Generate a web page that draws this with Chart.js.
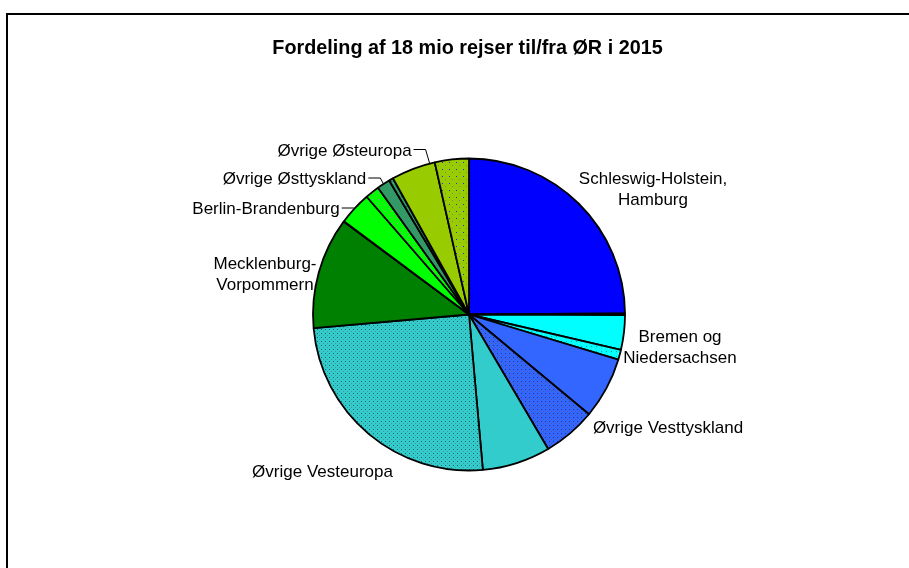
<!DOCTYPE html>
<html>
<head>
<meta charset="utf-8">
<script src="https://cdn.jsdelivr.net/npm/chart.js@4.4.1/dist/chart.umd.min.js"></script>
<style>
  html, body { margin: 0; padding: 0; background: #fff; }
  canvas { display: block; }
</style>
</head>
<body>
<canvas id="pie" width="909" height="568"></canvas>
<script>
// Trips to/from ØR 2015, thousands, clockwise from 12 o'clock
const regions = ['Schleswig-Holstein, Hamburg', 'Bremen og Niedersachsen', 'Øvrige Vesttyskland', 'Øvrige Vesteuropa',
    'Mecklenburg-Vorpommern', 'Berlin-Brandenburg', 'Øvrige Østtyskland', 'Øvrige Østeuropa'];
const plainTrips = [4480, 645, 1145, 1270, 2080, 615, 245, 825];
const dottedTrips = [35, 185, 990, 4505, 10, 265, 80, 635];
const titleText = 'Fordeling af 18 mio rejser til/fra ØR i 2015';

// label text as broken in the picture
const labelLines = [
    ['Schleswig-Holstein,', 'Hamburg'], ['Bremen og', 'Niedersachsen'], ['Øvrige Vesttyskland'], ['Øvrige Vesteuropa'],
    ['Mecklenburg-', 'Vorpommern'], ['Berlin-Brandenburg'], ['Øvrige Østtyskland'], ['Øvrige Østeuropa']
];
// label placement relative to pie centre (text centre x, first baseline y), and where the leader goes
const labelSpots = [[184, -131], [211, 27], [199, 118], [-146.5, 162.5], [-204, -46], [-203, -100.5], [-174.5, -130.5], [-124.5, -159]];
const leaders = [null, null, null, null, null, 'plain', 'plain', 'all'];

const regionColors = ['#0000ff', '#00ffff', '#3366ff', '#33cccc', '#008000', '#00ff00', '#339966', '#99cc00'];
// base colour, dot colours, tile size
const dotStyles = [
    ['#7777ff', '#c8c8ff', '#5555ee', 5],
    ['#00ffff', '#00a0a0', '#66ffff', 5],
    ['#3366ff', '#1c3a99', '#5a5a8a', 4],
    ['#33cccc', '#176666', '#4f9090', 4],
    ['#008000', '#004000', '#339933', 5],
    ['#00ff00', '#cc77cc', '#80a080', 6],
    ['#339966', '#1a5a3a', '#55aa88', 5],
    ['#99cc00', '#2233ee', '#7a8a60', 7]
];

const FONT = "'Liberation Sans', Arial, sans-serif";

// small dotted fill, like the hatched slices of the original
function makePattern(st) {
    const n = st[3];
    const tile = document.createElement('canvas');
    tile.width = n;
    tile.height = n;
    const c = tile.getContext('2d');
    c.fillStyle = st[0];
    c.fillRect(0, 0, n, n);
    c.fillStyle = st[1];
    c.fillRect(1, 1, 1, 1);
    c.fillStyle = st[2];
    c.fillRect(Math.floor(n / 2) + 1, Math.floor(n / 2) + 1, 1, 1);
    return c.createPattern(tile, 'repeat');
}

const values = [];
const fills = [];
regions.forEach((r, i) => {
    values.push(plainTrips[i], dottedTrips[i]);
    fills.push(regionColors[i], makePattern(dotStyles[i]));
});

const framePlugin = {
    id: 'frame',
    beforeDraw(chart) {
        const ctx = chart.ctx;
        ctx.save();
        ctx.fillStyle = '#fff';
        ctx.fillRect(0, 0, chart.width, chart.height);
        ctx.strokeStyle = '#000';
        ctx.lineWidth = 2;
        ctx.strokeRect(7, 14, 1000, 1000);
        ctx.fillStyle = '#000';
        ctx.font = 'bold 19.8px ' + FONT;
        ctx.textAlign = 'center';
        ctx.textBaseline = 'alphabetic';
        ctx.fillText(titleText, 467.5, 54);
        ctx.restore();
    }
};

const labelPlugin = {
    id: 'sliceLabels',
    afterDraw(chart) {
        const ctx = chart.ctx;
        const arcs = chart.getDatasetMeta(0).data;
        ctx.save();
        ctx.font = '17px ' + FONT;
        ctx.fillStyle = '#000';
        ctx.textAlign = 'center';
        ctx.textBaseline = 'alphabetic';
        labelLines.forEach((lines, i) => {
            const a = arcs[2 * i], b = arcs[2 * i + 1];
            const cx = a.x, cy = a.y;
            const tx = cx + labelSpots[i][0];
            const ty = cy + labelSpots[i][1];
            lines.forEach((t, k) => ctx.fillText(t, tx, ty + k * 21));
            if (leaders[i]) {
                const ang = leaders[i] === 'plain' ? (a.startAngle + a.endAngle) / 2 : (a.startAngle + b.endAngle) / 2;
                const ex = cx + Math.cos(ang) * a.outerRadius;
                const ey = cy + Math.sin(ang) * a.outerRadius;
                const w = ctx.measureText(lines[0]).width;
                const sx = tx + w / 2 + 2;
                const sy = ty - 6;
                ctx.beginPath();
                ctx.strokeStyle = '#000';
                ctx.lineWidth = 1;
                ctx.moveTo(sx, sy);
                ctx.lineTo(sx + 12, sy);
                ctx.lineTo(ex, ey);
                ctx.stroke();
            }
        });
        ctx.restore();
    }
};

new Chart(document.getElementById('pie'), {
    type: 'pie',
    data: {
        labels: regions.flatMap(r => [r, r]),
        datasets: [{
            data: values,
            backgroundColor: fills,
            borderColor: '#000',
            borderWidth: 1.8,
            radius: 156
        }]
    },
    options: {
        responsive: false,
        animation: false,
        layout: { padding: { left: 29, right: 0, top: 61, bottom: 0 } },
        plugins: {
            legend: { display: false },
            tooltip: { enabled: false }
        }
    },
    plugins: [framePlugin, labelPlugin]
});
</script>
</body>
</html>
